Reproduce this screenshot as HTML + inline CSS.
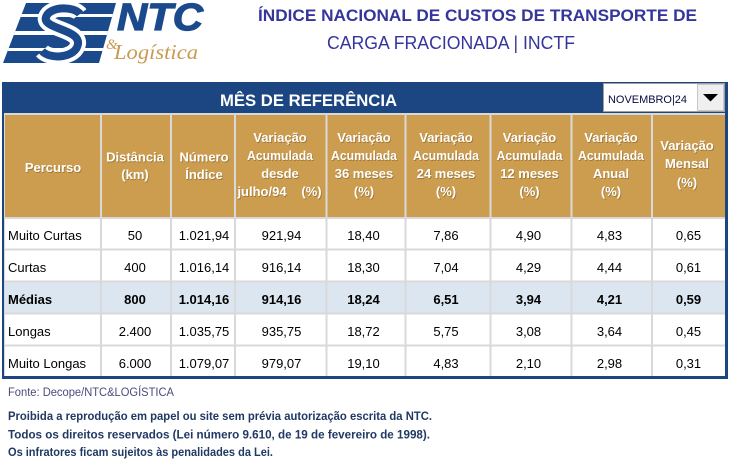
<!DOCTYPE html>
<html><head><meta charset="utf-8"><style>
html,body{margin:0;padding:0;background:#fff;}
svg{display:block;}
text{font-family:"Liberation Sans",sans-serif;}
.h{font-weight:bold;font-size:13px;fill:#fff;text-anchor:middle;}
.hs{font-weight:bold;font-size:13px;fill:#7a5a26;fill-opacity:.55;text-anchor:middle;}
.d{font-size:13px;fill:#000;text-anchor:middle;}
.db{font-size:13px;fill:#000;text-anchor:middle;font-weight:bold;}
</style></head><body>
<svg width="731" height="464" viewBox="0 0 731 464" xmlns="http://www.w3.org/2000/svg">
<defs>
<clipPath id="lg"><polygon points="26,3 116,3 99,63 3,63"/></clipPath>
</defs>
<!-- Logo -->
<g clip-path="url(#lg)">
<rect x="0" y="0" width="130" height="70" fill="#1B4A8C"/>
<rect x="0" y="14" width="130" height="3" fill="#fff"/>
<rect x="0" y="31" width="130" height="4" fill="#fff"/>
<rect x="0" y="48" width="130" height="3" fill="#fff"/>
<path d="M80,14 C74,6 50,6 46,17 C42,29 80,29 78,44 C76,58 50,60 42,51" fill="none" stroke="#fff" stroke-width="16"/>
<path d="M80,14 C74,6 50,6 46,17 C42,29 80,29 78,44 C76,58 50,60 42,51" fill="none" stroke="#1B4A8C" stroke-width="8"/>
</g>
<text x="117" y="30" font-size="38" font-weight="bold" font-style="italic" fill="#1B4A8C" stroke="#1B4A8C" stroke-width="1.2" textLength="86" lengthAdjust="spacingAndGlyphs">NTC</text>
<text x="106" y="49" font-size="15" font-style="italic" fill="#C99A52" style="font-family:'Liberation Serif',serif">&amp;</text>
<text x="114" y="59" font-size="21" font-style="italic" fill="#C99A52" style="font-family:'Liberation Serif',serif" textLength="84" lengthAdjust="spacingAndGlyphs">Logística</text>

<!-- Titles -->
<text x="258" y="21" font-size="17" font-weight="bold" fill="#35359B" textLength="439" lengthAdjust="spacingAndGlyphs">ÍNDICE NACIONAL DE CUSTOS DE TRANSPORTE DE</text>
<text x="327" y="49" font-size="18.5" fill="#35359B" textLength="248" lengthAdjust="spacingAndGlyphs">CARGA FRACIONADA | INCTF</text>

<!-- Frame -->
<rect x="2" y="82" width="726" height="297" fill="#1C4682"/>
<rect x="5" y="113" width="720" height="263" fill="#D9D9D9"/>
<rect x="5" y="115" width="720" height="102" fill="#CD9D4F"/>
<rect x="5" y="219" width="720" height="157" fill="#fff"/>
<rect x="5" y="282.5" width="720" height="30" fill="#DCE6F1"/>
<!-- grid lines -->
<g fill="#D9D9D9">
<rect x="5" y="217" width="720" height="2"/>
<rect x="5" y="248.5" width="720" height="2"/>
<rect x="5" y="280.5" width="720" height="2"/>
<rect x="5" y="312.5" width="720" height="2"/>
<rect x="5" y="344.5" width="720" height="2"/>
<rect x="4" y="113" width="1" height="263"/>
<rect x="100" y="113" width="2" height="263"/>
<rect x="170" y="113" width="2" height="263"/>
<rect x="234" y="113" width="2" height="263"/>
<rect x="325.5" y="113" width="2" height="263"/>
<rect x="404.5" y="113" width="2" height="263"/>
<rect x="489.5" y="113" width="2" height="263"/>
<rect x="570.5" y="113" width="2" height="263"/>
<rect x="651" y="113" width="2" height="263"/>
</g>

<!-- Banner title -->
<text x="220" y="106" font-size="16.5" font-weight="bold" fill="#fff" textLength="177" lengthAdjust="spacingAndGlyphs">MÊS DE REFERÊNCIA</text>

<!-- Dropdown -->
<rect x="603.5" y="83.5" width="121" height="28" fill="#fff" stroke="#A0A0A0" stroke-width="1"/>
<rect x="697.5" y="84.5" width="26" height="26" fill="#EFEFEF" stroke="#C8C8C8" stroke-width="1"/>
<polygon points="703,94 718,94 710.5,101.5" fill="#000"/>
<text x="608" y="103" font-size="11" fill="#0A0A40" textLength="79" lengthAdjust="spacingAndGlyphs">NOVEMBRO|24</text>

<!-- Header texts: shadow -->
<g transform="translate(0.8,0.8)">
<text class="hs" x="53" y="172">Percurso</text>
<text class="hs" x="135" y="161.5">Distância</text><text class="hs" x="135" y="179">(km)</text>
<text class="hs" x="204" y="161.5">Número</text><text class="hs" x="204" y="179">Índice</text>
<text class="hs" x="280" y="142">Variação</text><text class="hs" x="280" y="160" textLength="66" lengthAdjust="spacingAndGlyphs">Acumulada</text><text class="hs" x="280" y="178">desde</text>
<text class="hs" x="262" y="196">julho/94</text><text class="hs" x="311.5" y="196">(%)</text>
<text class="hs" x="364" y="142">Variação</text><text class="hs" x="364" y="160" textLength="66" lengthAdjust="spacingAndGlyphs">Acumulada</text><text class="hs" x="364" y="178">36 meses</text><text class="hs" x="364" y="196">(%)</text>
<text class="hs" x="446" y="142">Variação</text><text class="hs" x="446" y="160" textLength="66" lengthAdjust="spacingAndGlyphs">Acumulada</text><text class="hs" x="446" y="178">24 meses</text><text class="hs" x="446" y="196">(%)</text>
<text class="hs" x="529.5" y="142">Variação</text><text class="hs" x="529.5" y="160" textLength="66" lengthAdjust="spacingAndGlyphs">Acumulada</text><text class="hs" x="529.5" y="178">12 meses</text><text class="hs" x="529.5" y="196">(%)</text>
<text class="hs" x="611" y="142">Variação</text><text class="hs" x="611" y="160" textLength="66" lengthAdjust="spacingAndGlyphs">Acumulada</text><text class="hs" x="611" y="178">Anual</text><text class="hs" x="611" y="196">(%)</text>
<text class="hs" x="687" y="150">Variação</text><text class="hs" x="687" y="168">Mensal</text><text class="hs" x="687" y="187">(%)</text>
</g>
<g>
<text class="h" x="53" y="172">Percurso</text>
<text class="h" x="135" y="161.5">Distância</text><text class="h" x="135" y="179">(km)</text>
<text class="h" x="204" y="161.5">Número</text><text class="h" x="204" y="179">Índice</text>
<text class="h" x="280" y="142">Variação</text><text class="h" x="280" y="160" textLength="66" lengthAdjust="spacingAndGlyphs">Acumulada</text><text class="h" x="280" y="178">desde</text>
<text class="h" x="262" y="196">julho/94</text><text class="h" x="311.5" y="196">(%)</text>
<text class="h" x="364" y="142">Variação</text><text class="h" x="364" y="160" textLength="66" lengthAdjust="spacingAndGlyphs">Acumulada</text><text class="h" x="364" y="178">36 meses</text><text class="h" x="364" y="196">(%)</text>
<text class="h" x="446" y="142">Variação</text><text class="h" x="446" y="160" textLength="66" lengthAdjust="spacingAndGlyphs">Acumulada</text><text class="h" x="446" y="178">24 meses</text><text class="h" x="446" y="196">(%)</text>
<text class="h" x="529.5" y="142">Variação</text><text class="h" x="529.5" y="160" textLength="66" lengthAdjust="spacingAndGlyphs">Acumulada</text><text class="h" x="529.5" y="178">12 meses</text><text class="h" x="529.5" y="196">(%)</text>
<text class="h" x="611" y="142">Variação</text><text class="h" x="611" y="160" textLength="66" lengthAdjust="spacingAndGlyphs">Acumulada</text><text class="h" x="611" y="178">Anual</text><text class="h" x="611" y="196">(%)</text>
<text class="h" x="687" y="150">Variação</text><text class="h" x="687" y="168">Mensal</text><text class="h" x="687" y="187">(%)</text>
</g>

<!-- Data rows -->
<g>
<text x="8" y="240" font-size="13" fill="#000">Muito Curtas</text>
<text class="d" x="135" y="240">50</text><text class="d" x="204" y="240">1.021,94</text><text class="d" x="281.5" y="240">921,94</text><text class="d" x="363.5" y="240">18,40</text><text class="d" x="446" y="240">7,86</text><text class="d" x="528.5" y="240">4,90</text><text class="d" x="609.5" y="240">4,83</text><text class="d" x="688.5" y="240">0,65</text>

<text x="8" y="272" font-size="13" fill="#000">Curtas</text>
<text class="d" x="135" y="272">400</text><text class="d" x="204" y="272">1.016,14</text><text class="d" x="281.5" y="272">916,14</text><text class="d" x="363.5" y="272">18,30</text><text class="d" x="446" y="272">7,04</text><text class="d" x="528.5" y="272">4,29</text><text class="d" x="609.5" y="272">4,44</text><text class="d" x="688.5" y="272">0,61</text>

<text x="8" y="304" font-size="13" font-weight="bold" fill="#000">Médias</text>
<text class="db" x="135" y="304">800</text><text class="db" x="204" y="304">1.014,16</text><text class="db" x="281.5" y="304">914,16</text><text class="db" x="363.5" y="304">18,24</text><text class="db" x="446" y="304">6,51</text><text class="db" x="528.5" y="304">3,94</text><text class="db" x="609.5" y="304">4,21</text><text class="db" x="688.5" y="304">0,59</text>

<text x="8" y="336" font-size="13" fill="#000">Longas</text>
<text class="d" x="135" y="336">2.400</text><text class="d" x="204" y="336">1.035,75</text><text class="d" x="281.5" y="336">935,75</text><text class="d" x="363.5" y="336">18,72</text><text class="d" x="446" y="336">5,75</text><text class="d" x="528.5" y="336">3,08</text><text class="d" x="609.5" y="336">3,64</text><text class="d" x="688.5" y="336">0,45</text>

<text x="8" y="368" font-size="13" fill="#000">Muito Longas</text>
<text class="d" x="135" y="368">6.000</text><text class="d" x="204" y="368">1.079,07</text><text class="d" x="281.5" y="368">979,07</text><text class="d" x="363.5" y="368">19,10</text><text class="d" x="446" y="368">4,83</text><text class="d" x="528.5" y="368">2,10</text><text class="d" x="609.5" y="368">2,98</text><text class="d" x="688.5" y="368">0,31</text>
</g>

<!-- Footer -->
<text x="8" y="396" font-size="11.5" fill="#4B4B7B" textLength="166" lengthAdjust="spacingAndGlyphs">Fonte: Decope/NTC&amp;LOGÍSTICA</text>
<text x="8" y="420" font-size="11.5" font-weight="bold" fill="#203864" textLength="424" lengthAdjust="spacingAndGlyphs">Proibida a reprodução em papel ou site sem prévia autorização escrita da NTC.</text>
<text x="8" y="438.5" font-size="11.5" font-weight="bold" fill="#203864" textLength="422" lengthAdjust="spacingAndGlyphs">Todos os direitos reservados (Lei número 9.610, de 19 de fevereiro de 1998).</text>
<text x="8" y="456" font-size="11.5" font-weight="bold" fill="#203864" textLength="265" lengthAdjust="spacingAndGlyphs">Os infratores ficam sujeitos às penalidades da Lei.</text>
</svg>
</body></html>
